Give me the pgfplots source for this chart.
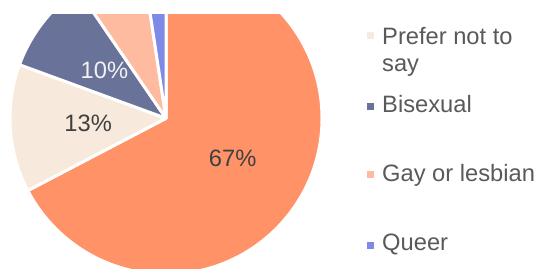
\documentclass[border=0pt]{standalone}
\usepackage{pgfplots}
\pgfplotsset{compat=1.18}
\usepackage{fontspec}
\setmainfont{Liberation Sans}
\definecolor{cHet}{RGB}{255,146,102}
\definecolor{cPref}{RGB}{248,233,221}
\definecolor{cBi}{RGB}{105,114,153}
\definecolor{cGay}{RGB}{255,187,160}
\definecolor{cQueer}{RGB}{126,139,230}
\definecolor{legtext}{RGB}{89,89,89}
\definecolor{labtext}{RGB}{64,64,64}
% slice: #1 cumulative start %, #2 cumulative end %, #3 colour
\newcommand{\slice}[3]{%
  \fill[#3, draw=white, line width=3pt, line join=round]
    (axis cs:166,149.7) -- ++({90-3.6*(#1)}:156pt)
    arc[start angle={90-3.6*(#1)}, end angle={90-3.6*(#2)}, radius=156pt] -- cycle;}
\begin{document}
\begin{tikzpicture}
\begin{axis}[
  at={(0,0)}, anchor=south west,
  scale only axis, width=537pt, height=253pt,
  xmin=0, xmax=537, ymin=0, ymax=253,
  hide axis, clip=true,
  font=\fontsize{23.7}{27}\selectfont,
]
% shares (%): 67.33, 13.25, 9.86, 7.17, 2.39
\slice{0}{67.33}{cHet}
\slice{67.33}{80.58}{cPref}
\slice{80.58}{90.44}{cBi}
\slice{90.44}{97.61}{cGay}
\slice{97.61}{100}{cQueer}
\node[text=labtext] at (axis cs:232.7,109.3) {67\%};
\node[text=labtext] at (axis cs:88.2,144.6) {13\%};
\node[text=white!95!black] at (axis cs:104.4,197.5) {10\%};
% legend
\fill[cPref] (axis cs:366.8,228.7) rectangle (axis cs:374.3,236.2);
\fill[cBi] (axis cs:366.8,157.7) rectangle (axis cs:374.3,165.2);
\fill[cGay] (axis cs:366.8,89.7) rectangle (axis cs:374.3,97.2);
\fill[cQueer] (axis cs:366.8,18.7) rectangle (axis cs:374.3,26.2);
\node[anchor=base west, inner sep=0pt, text=legtext] at (axis cs:382,223) {Prefer not to};
\node[anchor=base west, inner sep=0pt, text=legtext] at (axis cs:382,196) {say};
\node[anchor=base west, inner sep=0pt, text=legtext] at (axis cs:382,155) {Bisexual};
\node[anchor=base west, inner sep=0pt, text=legtext] at (axis cs:382,86.5) {Gay or lesbian};
\node[anchor=base west, inner sep=0pt, text=legtext] at (axis cs:382,18) {Queer};
\end{axis}
\pgfresetboundingbox
\path (0,0) rectangle (537pt,268pt);
\end{tikzpicture}
\end{document}
